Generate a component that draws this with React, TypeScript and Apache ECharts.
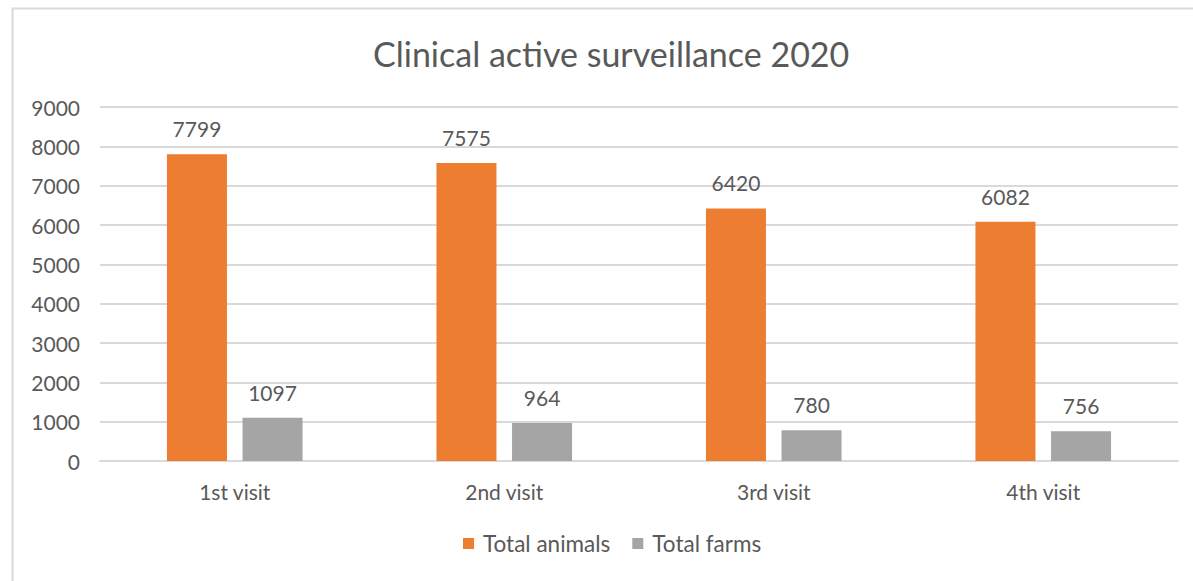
import React, { useEffect, useRef } from "react";
import * as echarts from "echarts";

const categories = ["1st visit", "2nd visit", "3rd visit", "4th visit"];
const totalAnimals = [7799, 7575, 6420, 6082];
const totalFarms = [1097, 964, 780, 756];
const yTicks = { min: 0, max: 9000, interval: 1000 };

const FONT = "Lato, 'Open Sans', sans-serif";
const TEXT = "#595959";

export default function App() {
  const ref = useRef<HTMLDivElement>(null);

  useEffect(() => {
    document.body.style.margin = "0";
    const chart = echarts.init(ref.current!, undefined, { renderer: "svg" });
    const labelStyle = {
      show: true,
      position: "top" as const,
      distance: 15,
      color: TEXT,
      fontSize: 21,
      fontFamily: FONT,
    };
    chart.setOption({
      animation: false,
      backgroundColor: "#ffffff",
      graphic: [
        {
          type: "rect",
          shape: { x: 12.5, y: 8.5, width: 1200, height: 600 },
          style: { fill: "none", stroke: "#D9D9D9", lineWidth: 2 },
          silent: true,
        },
      ],
      title: {
        text: "Clinical active surveillance 2020",
        left: 368,
        top: 31,
        textStyle: {
          color: TEXT,
          fontSize: 34,
          fontWeight: "normal",
          fontFamily: FONT,
        },
      },
      legend: {
        bottom: 21,
        left: 458,
        itemWidth: 11,
        itemHeight: 11,
        itemGap: 22,
        icon: "rect",
        textStyle: {
          color: TEXT,
          fontSize: 22.5,
          fontFamily: FONT,
          padding: [0, 0, 0, 4],
        },
        data: ["Total animals", "Total farms"],
      },
      grid: { left: 100, right: 15, top: 107, bottom: 120 },
      xAxis: {
        type: "category",
        data: categories,
        axisLine: { lineStyle: { color: "#D9D9D9", width: 2 } },
        axisTick: { show: false },
        axisLabel: {
          color: TEXT,
          fontSize: 21,
          fontFamily: FONT,
          margin: 20,
        },
      },
      yAxis: {
        type: "value",
        min: yTicks.min,
        max: yTicks.max,
        interval: yTicks.interval,
        axisLine: { show: false },
        axisTick: { show: false },
        splitLine: { lineStyle: { color: "#D9D9D9", width: 2 } },
        axisLabel: {
          color: TEXT,
          fontSize: 21,
          fontFamily: FONT,
          margin: 20,
          formatter: (v: number) => String(v),
        },
      },
      series: [
        {
          name: "Total animals",
          type: "bar",
          data: totalAnimals,
          barWidth: 60,
          barGap: "26%",
          itemStyle: { color: "#ED7D31" },
          label: labelStyle,
        },
        {
          name: "Total farms",
          type: "bar",
          data: totalFarms,
          barWidth: 60,
          itemStyle: { color: "#A5A5A5" },
          label: labelStyle,
        },
      ],
    });
    return () => chart.dispose();
  }, []);

  return (
    <div
      ref={ref}
      style={{ position: "absolute", left: 0, top: 0, width: 1193, height: 581 }}
    />
  );
}
